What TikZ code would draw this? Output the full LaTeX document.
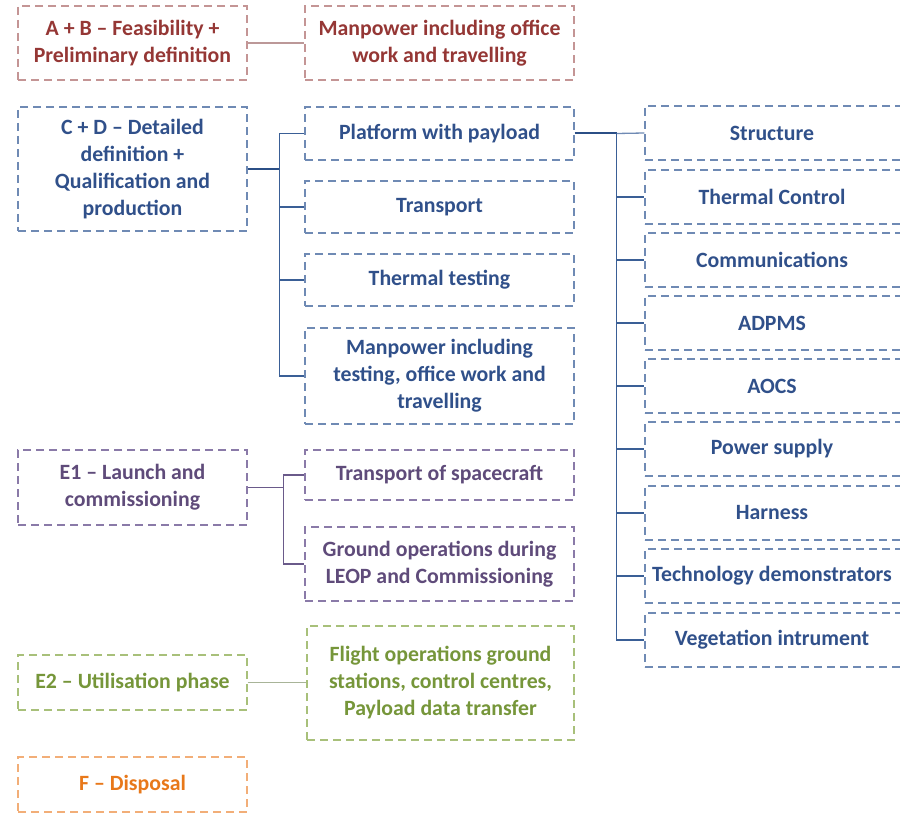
\documentclass[tikz,border=0pt]{standalone}
\usepackage{fontspec}
\setmainfont{Carlito}
\definecolor{redtxt}{HTML}{953735}
\definecolor{redbd}{HTML}{C49595}
\definecolor{redln}{HTML}{BC9898}
\definecolor{bluetxt}{HTML}{30508A}
\definecolor{bluebd}{HTML}{6F8AB4}
\definecolor{blueln}{HTML}{3A5F96}
\definecolor{bluethk}{HTML}{2B4F86}
\definecolor{purtxt}{HTML}{5F4B7A}
\definecolor{purbd}{HTML}{8A7AA8}
\definecolor{purln}{HTML}{6A5A8A}
\definecolor{grntxt}{HTML}{76963A}
\definecolor{grnbd}{HTML}{A8C07A}
\definecolor{grnln}{HTML}{A8B498}
\definecolor{ortxt}{HTML}{E8781A}
\definecolor{orbd}{HTML}{F2AE78}
\begin{document}
\begin{tikzpicture}[x=1pt,y=-1pt,
  bx/.style={draw, dash pattern=on 8pt off 5pt, line width=1.4pt, align=center,
    inner sep=0pt, anchor=center, font=\bfseries\fontsize{21.8}{27}\selectfont},
  redbox/.style={bx, draw=redbd, text=redtxt},
  bluebox/.style={bx, draw=bluebd, text=bluetxt},
  purbox/.style={bx, draw=purbd, text=purtxt},
  grnbox/.style={bx, draw=grnbd, text=grntxt},
  orbox/.style={bx, draw=orbd, text=ortxt},
  rbox/.style={bluebox, minimum width=258, minimum height=54},
  conn/.style={line width=1.3pt}]
\clip (0,0) rectangle (900,813);
% left column
\node[redbox, minimum width=229, minimum height=74] (ab) at (132.5,43) {A + B – Feasibility +\\Preliminary definition};
\node[bluebox, minimum width=229, minimum height=124] (cd) at (132.5,169) {C + D – Detailed\\definition +\\Qualification and\\production};
\node[purbox, minimum width=229, minimum height=75] (e1) at (132.5,487.5) {E1 – Launch and\\commissioning};
\node[grnbox, minimum width=229, minimum height=55] (e2) at (132.5,682.5) {E2 – Utilisation phase};
\node[orbox, minimum width=229, minimum height=55] (f) at (132.5,784.5) {F – Disposal};
% middle column
\node[redbox, minimum width=269, minimum height=74] (man1) at (439.5,43) {Manpower including office\\work and travelling};
\node[bluebox, minimum width=269, minimum height=53] (plat) at (439.5,133.5) {Platform with payload};
\node[bluebox, minimum width=269, minimum height=52] (trans) at (439.5,207) {Transport};
\node[bluebox, minimum width=269, minimum height=52] (therm) at (439.5,280) {Thermal testing};
\node[bluebox, minimum width=269, minimum height=96] (man2) at (439.5,376) {Manpower including\\testing, office work and\\travelling};
\node[purbox, minimum width=269, minimum height=50] (tsc) at (439.5,475) {Transport of spacecraft};
\node[purbox, minimum width=269, minimum height=74] (gnd) at (439.5,564) {Ground operations during\\LEOP and Commissioning};
\node[grnbox, minimum width=267, minimum height=114] (fo) at (440.5,683) {Flight operations ground\\stations, control centres,\\Payload data transfer};
% right column
\node[rbox] (s1) at (774,133) {\makebox[254pt]{Structure}\hspace*{4pt}};
\node[rbox] (s2) at (774,197) {\makebox[254pt]{Thermal Control}\hspace*{4pt}};
\node[rbox] (s3) at (774,260) {\makebox[254pt]{Communications}\hspace*{4pt}};
\node[rbox] (s4) at (774,323) {\makebox[254pt]{ADPMS}\hspace*{4pt}};
\node[rbox] (s5) at (774,386) {\makebox[254pt]{AOCS}\hspace*{4pt}};
\node[rbox] (s6) at (774,449) {\makebox[254pt]{Power supply}\hspace*{4pt}};
\node[rbox] (s7) at (774,513) {\makebox[254pt]{Harness}\hspace*{4pt}};
\node[rbox] (s8) at (774,576) {\makebox[254pt]{Technology demonstrators}\hspace*{4pt}};
\node[rbox] (s9) at (774,640) {\makebox[254pt]{Vegetation intrument}\hspace*{4pt}};
% connectors
\draw[conn, redln] (ab.east) -- (man1.west);
\draw[line width=2pt, bluethk] (cd.east) -- ++(32,0) coordinate (b1);
\foreach \n in {plat,trans,therm,man2} \draw[conn, blueln] (b1) |- (\n.west);
\draw[line width=2pt, bluethk] (plat.east) -- ++(42,0) coordinate (b2);
\draw[conn, bluebd] (b2) -- (s1.west);
\foreach \n in {s2,s3,s4,s5,s6,s7,s8,s9} \draw[conn, blueln] (b2) |- (\n.west);
\draw[conn, purln] (e1.east) -- ++(36,0) coordinate (b3);
\foreach \n in {tsc,gnd} \draw[conn, purln] (b3) |- (\n.west);
\draw[line width=1.8pt, grnln] (e2.east) -- (e2.east -| fo.west);
\end{tikzpicture}
\end{document}
